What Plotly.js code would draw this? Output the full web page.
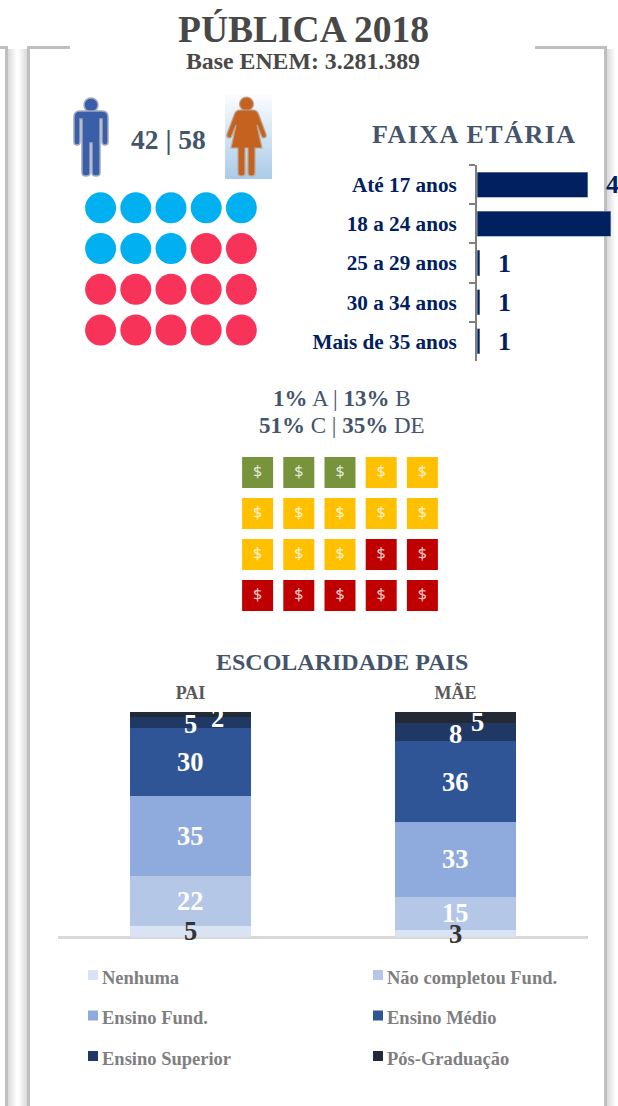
<!DOCTYPE html>
<html><head><meta charset="utf-8">
<script src="https://cdn.plot.ly/plotly-3.0.1.min.js"></script>
<style>html,body{margin:0;padding:0;background:#fff;overflow:hidden}
#chart{width:618px;height:1106px}
.annotation[data-index="4"] text{letter-spacing:1.5px}</style>
</head><body><div id="chart"></div>
<script>
const ageLabels=['Até 17 anos','18 a 24 anos','25 a 29 anos','30 a 34 anos','Mais de 35 anos'];
const ageValues=[44,53,1,1,1];
const ageValueTexts=['4','','1','1','1'];
const genderCounts=[8,12];
const genderColors=['#00B0F0','#F83359'];
const classCounts=[3,10,7];
const classColors=['#77933C','#FFC000','#C00000'];
const eduParents=['PAI','MÃE'];
const eduSeries=['Nenhuma','Não completou Fund.','Ensino Fund.','Ensino Médio','Ensino Superior','Pós-Graduação'];
const eduPai=[5,22,35,30,5,2];
const eduMae=[3,15,33,36,8,5];
const eduColors=['#DAE3F3','#B4C7E7','#8FAADC','#2F5597','#1F3864','#222A35'];
const eduLabelColors=['#333333','#FFFFFF','#FFFFFF','#FFFFFF','#FFFFFF','#FFFFFF'];
const W=618,H=1106,serif='"Liberation Serif","Times New Roman",serif';
const dx=(a,b)=>[a/W,Math.min(b/W,1)], dy=(a,b)=>[1-b/H,1-a/H];
const expand=(counts,vals)=>counts.flatMap((n,i)=>Array(n).fill(vals[i]));
const share=vals=>{const t=vals.reduce((a,b)=>a+b,0);return vals.map(v=>v/t*100);};
const paiShare=share(eduPai),maeShare=share(eduMae);

const gx=[],gy=[];for(let r=0;r<4;r++)for(let c=0;c<5;c++){gx.push(c);gy.push(r);}
const traces=[];
traces.push({type:'bar',orientation:'h',x:ageValues,y:ageLabels,xaxis:'x',yaxis:'y',
  marker:{color:'#002060',line:{color:'#8497B0',width:0.6}},width:0.64,hoverinfo:'x+y',showlegend:false});
traces.push({type:'scatter',mode:'markers',x:gx,y:gy,xaxis:'x2',yaxis:'y2',showlegend:false,
  marker:{symbol:'circle',size:31,color:expand(genderCounts,genderColors)}});
traces.push({type:'scatter',mode:'markers+text',x:gx,y:gy,xaxis:'x3',yaxis:'y3',showlegend:false,
  text:gx.map(()=>'$'),textposition:'middle center',
  textfont:{family:'"Noto Sans",sans-serif',size:16,color:'rgba(255,255,255,0.8)'},
  marker:{symbol:'square',size:31,color:expand(classCounts,classColors)}});
eduSeries.forEach((s,i)=>traces.push({type:'bar',name:s,x:eduParents,y:[paiShare[i],maeShare[i]],xaxis:'x4',yaxis:'y4',
  marker:{color:eduColors[i],line:{width:0}},showlegend:false}));
const lx=[],ly=[];eduSeries.forEach((s,i)=>{lx.push(i%2);ly.push(Math.floor(i/2));});
traces.push({type:'scatter',mode:'markers',x:lx,y:ly,xaxis:'x5',yaxis:'y5',showlegend:false,hoverinfo:'text',text:eduSeries,
  marker:{symbol:'square',size:10,color:eduColors}});

const ann=[];
const T=(text,x,y,size,color)=>ann.push({text:text,xref:'paper',yref:'paper',x:x/W,y:1-y/H,xanchor:'center',yanchor:'middle',showarrow:false,font:{family:serif,size:size,color:color}});
T('<b>PÚBLICA 2018</b>',303,30,37.5,'#484848');
T('<b>Base ENEM: 3.281.389</b>',303,61,23.8,'#484848');
T('<b>42 | 58</b>',168,139,27.5,'#44546A');
T('<b>1%</b> A | <b>13%</b> B',342,398,23,'#44546A');
T('<b>FAIXA ETÁRIA</b>',474,134,26,'#44546A');
T('<b>51%</b> C | <b>35%</b> DE',342,426,23,'#44546A');
T('<b>ESCOLARIDADE PAIS</b>',342,662,24,'#44546A');
ageValues.forEach((v,i)=>{ if(ageValueTexts[i]) ann.push({text:'<b>'+ageValueTexts[i]+'</b>',xref:'x',yref:'y',x:v,y:ageLabels[i],xanchor:'left',yanchor:'middle',xshift:16,showarrow:false,font:{family:serif,size:26,color:'#002060'}});});
[[eduPai,paiShare],[eduMae,maeShare]].forEach(([vals,sh],k)=>{
  let cum=0;
  vals.forEach((v,i)=>{
    const mid=cum+sh[i]/2;cum+=sh[i];
    ann.push({text:'<b>'+v+'</b>',xref:'x4',yref:'y4',x:eduParents[k],y:mid,xanchor:'center',yanchor:'middle',
      xshift:i===5?(k===0?27:22):0,yshift:i===5?-4:(i===4?-2:0),showarrow:false,
      font:{family:serif,size:26.5,color:eduLabelColors[i]}});
  });
});
eduSeries.forEach((s,i)=>ann.push({text:'<b>'+s+'</b>',xref:'x5',yref:'y5',x:lx[i],y:ly[i],xanchor:'left',yanchor:'middle',xshift:6.5,yshift:-2.5,showarrow:false,font:{family:serif,size:18.5,color:'#7F7F7F'}}));

const frame=[];
const R=(x0,y0,x1,y1,c)=>frame.push({type:'rect',xref:'paper',yref:'paper',x0:x0/W,y0:1-y0/H,x1:x1/W,y1:1-y1/H,layer:'below',line:{width:0},fillcolor:c});
const grey='#BFBFBF';
R(27,46,70,49,grey);R(27,46,30,H,grey);
R(535,46,607,49,grey);R(604,46,607,H,grey);
R(0,46,8,49,grey);R(5,46,8,H,grey);
for(let i=0;i<8;i++){const a=(0.42*(1-i/8)).toFixed(3),c='rgba(170,170,170,'+a+')';
  R(26-i,49,27-i,H,c);R(8+i,49,9+i,H,c);R(607+i,49,608+i,H,c);}

const manSvg=`<svg xmlns="http://www.w3.org/2000/svg" width="40" height="84" viewBox="0 0 40 84"><g fill="#3A5FA8" stroke="#9FA9BC" stroke-width="1.5"><circle cx="20" cy="10" r="7"/><path d="M9 16H31Q37 16 37 22V47Q37 50 34 50Q31 50 31 47V24H29V78Q29 81 25 81Q21 81 21 78V48H19V78Q19 81 15 81Q11 81 11 78V24H9V47Q9 50 6 50Q3 50 3 47V22Q3 16 9 16Z"/></g></svg>`;
const womanSvg=`<svg xmlns="http://www.w3.org/2000/svg" width="47" height="84" viewBox="0 0 47 84"><defs><linearGradient id="g" x1="0" y1="0" x2="0" y2="1"><stop offset="0" stop-color="#FBFCFE"/><stop offset="1" stop-color="#A9CBE8"/></linearGradient></defs><rect width="47" height="84" fill="url(#g)"/><g fill="#C5621F" stroke="#B9A99C" stroke-width="1.2"><circle cx="21.5" cy="9" r="7"/><path d="M15 15H28Q32 15 33.500 19L41 39Q42 43 38.500 43Q37 43 36 40L32 30L37 53H30V78Q30 81 26.500 81Q23 81 23 78V53H20V78Q20 81 16.500 81Q13 81 13 78V53H6L11 30L7 40Q6 43 4.500 43Q1 43 2 39L9.500 19Q11 15 15 15Z"/></g></svg>`;
const uri=s=>'data:image/svg+xml;charset=utf-8,'+encodeURIComponent(s);
const img=(s,x,y,w,h)=>({source:uri(s),xref:'paper',yref:'paper',x:x/W,y:1-y/H,sizex:w/W,sizey:h/H,xanchor:'left',yanchor:'top',sizing:'stretch',layer:'above'});

const blank={showgrid:false,zeroline:false,showticklabels:false,showline:false,ticks:'',fixedrange:true};
const layout={width:W,height:H,margin:{l:0,r:0,t:0,b:0},paper_bgcolor:'#fff',plot_bgcolor:'rgba(0,0,0,0)',showlegend:false,barmode:'stack',bargap:0.54,
 xaxis:Object.assign({},blank,{domain:dx(477,618),range:[0,141/2.52],anchor:'y'}),
 yaxis:{domain:dy(165,361),anchor:'x',autorange:'reversed',type:'category',tickson:'boundaries',ticks:'outside',ticklen:6,tickwidth:2,tickcolor:'#7F7F7F',showline:true,linecolor:'#7F7F7F',linewidth:2,showgrid:false,zeroline:false,ticklabelstandoff:14,tickfont:{family:serif,size:21.2,color:'#002060',weight:700},fixedrange:true},
 xaxis2:Object.assign({},blank,{domain:dx(171-88,171+88),range:[-0.5,4.5],anchor:'y2'}),
 yaxis2:Object.assign({},blank,{domain:dy(269-81.5,269+81.5),range:[3.5,-0.5],anchor:'x2'}),
 xaxis3:Object.assign({},blank,{domain:dx(340-103,340+103),range:[-0.5,4.5],anchor:'y3'}),
 yaxis3:Object.assign({},blank,{domain:dy(534-82,534+82),range:[3.5,-0.5],anchor:'x3'}),
 xaxis4:{domain:dx(58,588),anchor:'y4',side:'top',type:'category',showgrid:false,zeroline:false,showline:false,ticks:'',ticklabelstandoff:8,tickfont:{family:serif,size:18,color:'#595959',weight:700},fixedrange:true},
 yaxis4:{domain:dy(712,937),anchor:'x4',range:[0,100],showticklabels:false,ticks:'',showgrid:false,showline:false,zeroline:true,zerolinecolor:'#D9D9D9',zerolinewidth:3,fixedrange:true},
 xaxis5:Object.assign({},blank,{domain:[0,1],range:[(0-93)/285,(618-93)/285],anchor:'y5'}),
 yaxis5:Object.assign({},blank,{domain:dy(975-20.25,1056+20.25),range:[2.5,-0.5],anchor:'x5'}),
 annotations:ann,shapes:frame,
 images:[img(manSvg,71,95,40,84),img(womanSvg,225,95,47,84)]
};
Plotly.newPlot('chart',traces,layout,{displayModeBar:false,staticPlot:true});
</script></body></html>
